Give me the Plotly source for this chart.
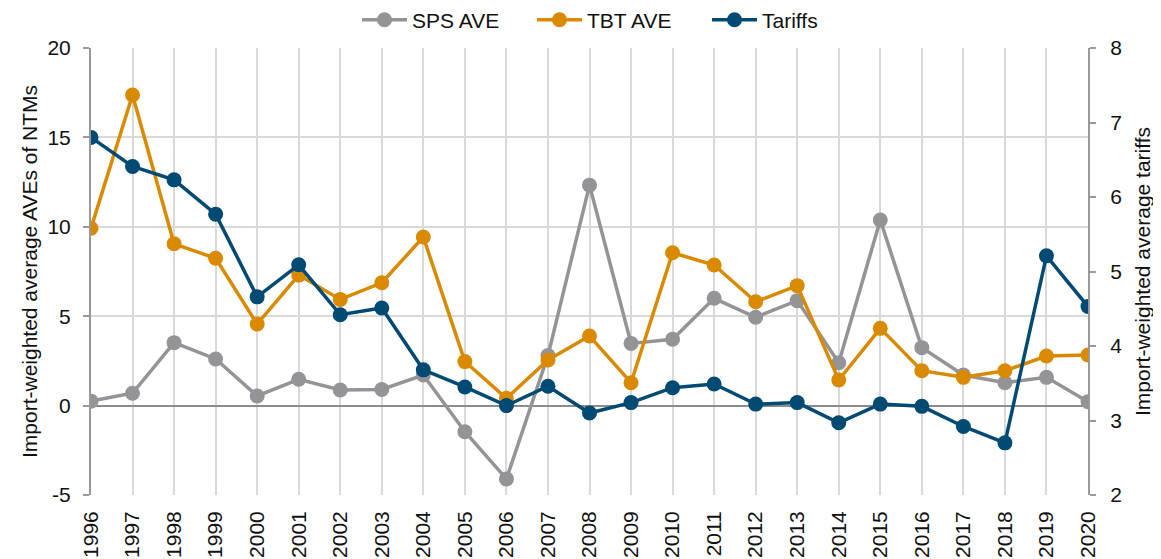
import plotly.graph_objects as go

years = list(range(1996, 2021))
sps_ave = [0.25, 0.69, 3.52, 2.61, 0.54, 1.47, 0.87, 0.9, 1.71, -1.46, -4.1, 2.8,
           12.33, 3.48, 3.71, 6.0, 4.94, 5.87, 2.4, 10.38, 3.24, 1.71, 1.28, 1.58, 0.22]
tbt_ave = [9.92, 17.37, 9.05, 8.24, 4.56, 7.3, 5.94, 6.87, 9.43, 2.46, 0.41, 2.55,
           3.89, 1.28, 8.55, 7.86, 5.81, 6.71, 1.43, 4.32, 1.95, 1.58, 1.95, 2.77, 2.83]
tariffs = [6.80, 6.41, 6.23, 5.77, 4.66, 5.09, 4.42, 4.51, 3.68, 3.45, 3.20, 3.46,
           3.10, 3.24, 3.44, 3.49, 3.22, 3.24, 2.97, 3.22, 3.19, 2.92, 2.70, 5.21, 4.53]
left_ticks = [-5, 0, 5, 10, 15, 20]
left_tick_labels = ["-5", "0", "5", "10", "15", "20"]

GRAY = "#949498"
ORANGE = "#D98A00"
NAVY = "#004A73"
FONT = "Liberation Sans, Arial, sans-serif"
FS = 21

fig = go.Figure()
fig.add_trace(go.Scatter(x=years, y=sps_ave, name="SPS AVE", mode="lines+markers",
                         line=dict(color=GRAY, width=3.5), marker=dict(color=GRAY, size=15)))
fig.add_trace(go.Scatter(x=years, y=tbt_ave, name="TBT AVE", mode="lines+markers",
                         line=dict(color=ORANGE, width=3.5), marker=dict(color=ORANGE, size=15)))
fig.add_trace(go.Scatter(x=years, y=tariffs, name="Tariffs", mode="lines+markers", yaxis="y2",
                         line=dict(color=NAVY, width=3.5), marker=dict(color=NAVY, size=15)))

fig.update_layout(
    width=1153, height=551,
    margin=dict(l=83, r=73, t=40, b=64),
    paper_bgcolor="white", plot_bgcolor="white",
    font=dict(family=FONT, size=FS, color="#111111"),
    showlegend=True,
    legend=dict(orientation="h", x=0.2668, xanchor="left", y=0.978, yanchor="middle",
                yref="container", font=dict(size=FS), itemwidth=45, entrywidth=115,
                traceorder="normal"),
    xaxis=dict(range=[1996, 2020], dtick=1, tick0=1996, tickangle=-90,
               showgrid=True, gridcolor="#d9d9d9", gridwidth=2,
               showline=False, ticks="", zeroline=False, automargin=False,
               ticklabelstandoff=11, tickfont=dict(size=FS)),
    yaxis=dict(range=[-5, 20], tickmode="array", tickvals=left_ticks, ticktext=left_tick_labels,
               showgrid=True, gridcolor="#d9d9d9", gridwidth=2,
               zeroline=True, zerolinecolor="#8c8c8c", zerolinewidth=2,
               showline=True, linecolor="#999999", linewidth=2, automargin=False,
               ticks="outside", ticklen=6, tickcolor="#999999", tickwidth=2,
               ticklabelstandoff=8,
               title=dict(text="Import-weighted average AVEs of NTMs", font=dict(size=FS), standoff=4),
               tickfont=dict(size=FS)),
    yaxis2=dict(range=[2, 8], dtick=1, overlaying="y", side="right", showgrid=False,
                zeroline=False, showline=True, linecolor="#999999", linewidth=2, automargin=False,
                ticks="outside", ticklen=6, tickcolor="#999999", tickwidth=2,
                ticklabelstandoff=10,
                title=dict(text="Import-weighted average tariffs", font=dict(size=FS), standoff=14),
                tickfont=dict(size=FS)),
)

fig.write_html("out.html")
